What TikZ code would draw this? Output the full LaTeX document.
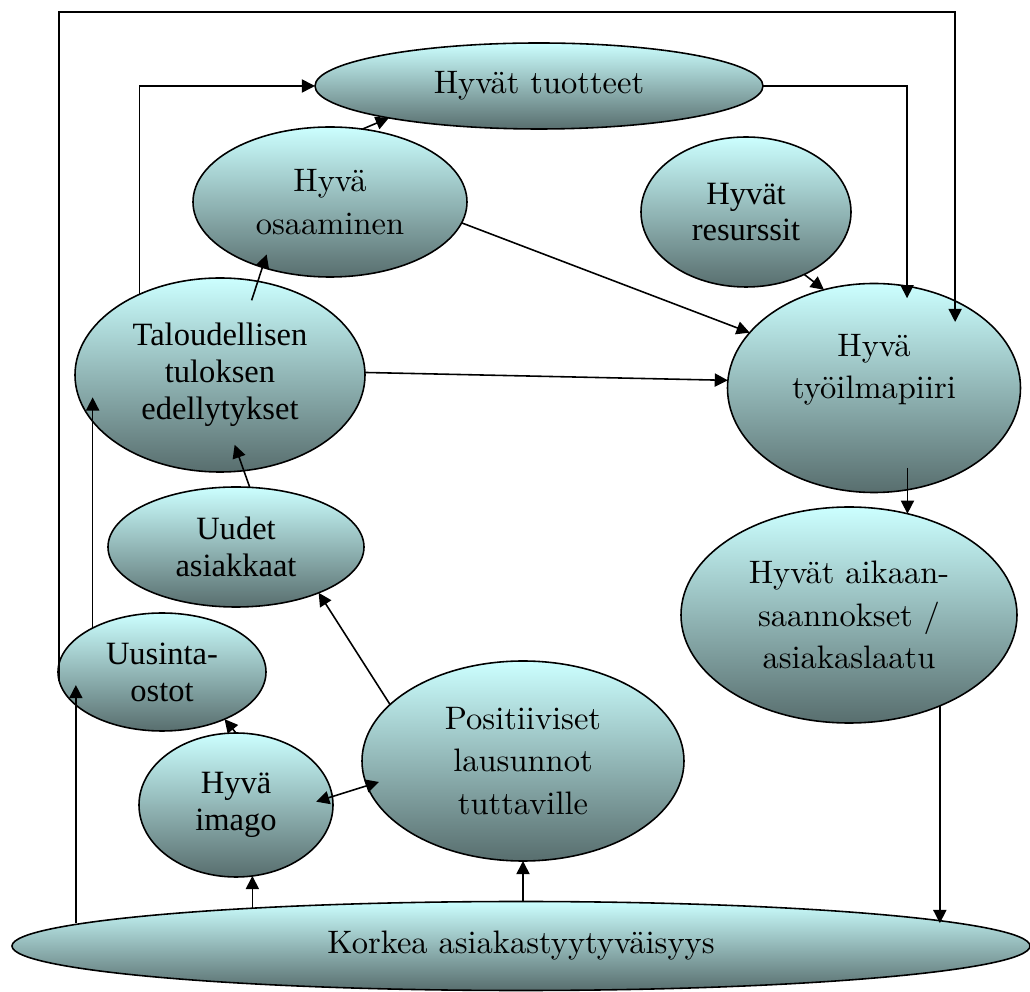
\documentclass[tikz,border=0pt]{standalone}
\usepackage{fontspec}
\usetikzlibrary{shapes.geometric,arrows.meta}
\newfontfamily\timesfam{Liberation Serif}
\newfontfamily\palfam{lmroman10-regular}[Extension=.otf]
\definecolor{bubtop}{RGB}{204,255,255}
\definecolor{bubbot}{RGB}{88,110,110}

\begin{document}
\begin{tikzpicture}[x=0.2mm, y=-0.2mm, >={Triangle[length=7.5pt,width=7.5pt]},
    bubble/.style 2 args={ellipse, draw, line width=0.9pt, top color=bubtop, bottom color=bubbot,
      minimum width=#1*0.2mm, minimum height=#2*0.2mm, inner sep=0pt, outer sep=0pt, align=center},
    pal/.style={font=\palfam\fontsize{18.5}{24}\selectfont},
    tms/.style={font=\timesfam\fontsize{18.5}{21}\selectfont},
    link/.style={->, line width=0.9pt}]
    \useasboundingbox (0,0) rectangle (1030,992);
    % ellipses
    \node[bubble={448}{86}, pal] (tuot) at (539,86) {Hyvät tuotteet};
    \node[bubble={274}{150}, pal] (osa) at (330,202) {Hyvä\\osaaminen};
    \node[bubble={210}{150}, tms] (res) at (746,212) {Hyvät\\resurssit};
    \node[bubble={290}{194}, tms] (tal) at (220,375) {Taloudellisen\\tuloksen\\edellytykset};
    \node[bubble={293}{209}, pal] (tyo) at (874,388) {\raisebox{6.3pt}[0pt][0pt]{\begin{tabular}{@{}c@{}}Hyvä\\työilmapiiri\end{tabular}}};
    \node[bubble={256}{120}, tms] (uud) at (236,547) {Uudet\\asiakkaat};
    \node[bubble={336}{216}, pal] (aik) at (849,615) {Hyvät aikaan-\\saannokset /\\asiakaslaatu};
    \node[bubble={208}{118}, tms] (uus) at (162,672) {Uusinta-\\ostot};
    \node[bubble={322}{200}, pal] (pos) at (523,761) {Positiiviset\\lausunnot\\tuttaville};
    \node[bubble={194}{144}, tms] (ima) at (236,805) {Hyvä\\imago};
    \node[bubble={1018}{89}, pal] (kor) at (521,946) {Korkea asiakastyytyväisyys};
    % connectors
    \coordinate (rim) at (0,12);
    \draw[link, shorten >=-4.2mm] (uus.185) -- (uus.185 |- rim) -| (tyo.47);
    \draw[link] (tal.135) |- (tuot.west);
    \draw[link, shorten >=-2.4mm] (tuot.east) -| (tyo.72);
    \draw[link] (osa.66) -- (tuot.192);
    \draw[link] (osa.351) -- (tyo.156);
    \draw[link] (res.313) -- (tyo.117);
    \draw[link] (tal.1) -- (tyo.177);
    \draw[link, shorten <=-4mm, shorten >=-2.7mm] (tal.68) -- (osa.224);
    \draw[link, shorten >=-5.5mm] (uud.77) -- (tal.284);
    \draw[link, shorten >=-4.8mm] (tal.200 |- uus.148) -- (tal.200);
    \draw[link] (pos.157) -- (uud.331);
    \draw[link] (ima.north) -- (uus.323);
    \draw[<->, line width=0.9pt, shorten <=-3.4mm, shorten >=-2.5mm] (ima.5) -- (pos.189);
    \draw[link] (ima.283 |- kor.172) -- (ima.283);
    \draw[link] (pos.south |- kor.north) -- (pos.south);
    \draw[link, shorten >=-4mm] (uus.201 |- kor.177) -- (uus.201);
    \draw[link, shorten <=-4.4mm] (aik.60 |- tyo.288) -- (aik.60);
    \draw[link] (aik.315) -- (aik.315 |- kor.3);
\end{tikzpicture}
\end{document}
